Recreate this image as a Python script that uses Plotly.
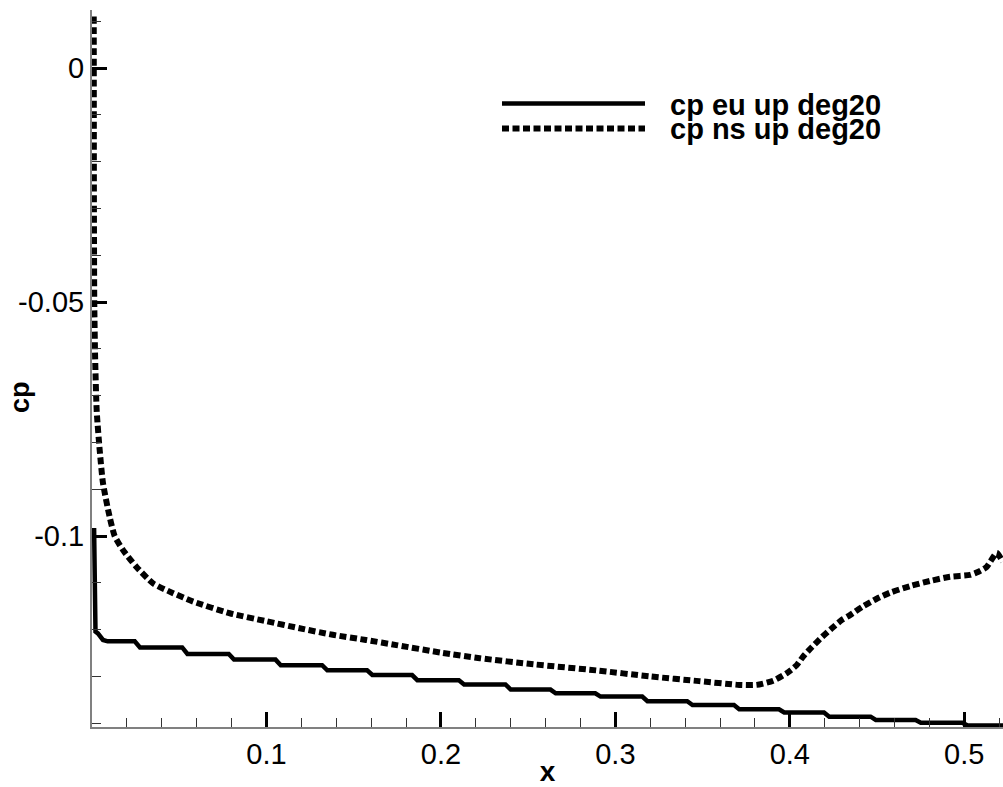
import plotly.graph_objects as go

# ---------------- data ----------------
x_eu = [0.0012, 0.0013, 0.0015, 0.0020, 0.0034, 0.0063, 0.0090,
        0.0245, 0.0275, 0.0517, 0.0547, 0.0784, 0.0814, 0.1052, 0.1082,
        0.1319, 0.1349, 0.1577, 0.1607, 0.1835, 0.1865, 0.2103, 0.2133,
        0.2370, 0.2400, 0.2628, 0.2658, 0.2885, 0.2915, 0.3154, 0.3184,
        0.3412, 0.3442, 0.3680, 0.3710, 0.3938, 0.3968, 0.4196, 0.4226,
        0.4463, 0.4493, 0.4721, 0.4751, 0.4989, 0.5019, 0.5222]
y_eu = [-0.0983, -0.1080, -0.1160, -0.1204, -0.1208, -0.1222, -0.1225,
        -0.1225, -0.1238, -0.1238, -0.1252, -0.1252, -0.1264, -0.1264, -0.1276,
        -0.1276, -0.1287, -0.1287, -0.1297, -0.1297, -0.1308, -0.1308, -0.1317,
        -0.1317, -0.1328, -0.1328, -0.1336, -0.1336, -0.1343, -0.1343, -0.1353,
        -0.1353, -0.1361, -0.1361, -0.1370, -0.1370, -0.1377, -0.1377, -0.1386,
        -0.1386, -0.1393, -0.1393, -0.1399, -0.1399, -0.1405, -0.1405]

x_ns = [0.0010, 0.0011, 0.0013, 0.0018, 0.0027, 0.0044, 0.0063, 0.0101, 0.0130,
        0.0178, 0.0255, 0.0350, 0.0465, 0.0580, 0.0790, 0.1000, 0.1190, 0.1380,
        0.1570, 0.1745, 0.2000, 0.2223, 0.2530, 0.2890, 0.3200, 0.3480, 0.3710,
        0.3810, 0.3905, 0.3982, 0.4039, 0.4075, 0.4127, 0.4184, 0.4241, 0.4299,
        0.4345, 0.4421, 0.4498, 0.4574, 0.4689, 0.4803, 0.4918, 0.5033, 0.5071,
        0.5128, 0.5186, 0.5220]
y_ns = [0.0110, -0.0300, -0.0500, -0.0620, -0.0733, -0.0816, -0.0887, -0.0959, -0.1000,
        -0.1030, -0.1066, -0.1101, -0.1122, -0.1140, -0.1165, -0.1182, -0.1197, -0.1211,
        -0.1222, -0.1233, -0.1249, -0.1261, -0.1274, -0.1287, -0.1300, -0.1310, -0.1318,
        -0.1318, -0.1309, -0.1293, -0.1276, -0.1258, -0.1237, -0.1216, -0.1197, -0.1179,
        -0.1169, -0.1150, -0.1134, -0.1121, -0.1107, -0.1096, -0.1087, -0.1083, -0.1078,
        -0.1066, -0.1036, -0.1055]

series_names = ["cp eu up deg20", "cp ns up deg20"]

x_tickvals = [0.1, 0.2, 0.3, 0.4, 0.5]
x_ticktext = ["0.1", "0.2", "0.3", "0.4", "0.5"]
y_tickvals = [0.0, -0.05, -0.1]
y_ticktext = ["0", "-0.05", "-0.1"]

# ---------------- figure ----------------
W, H = 1003, 787
ML, MR, MT, MB = 92, 0, 10, 60
PW, PH = W - ML - MR, H - MT - MB

FONT = "Liberation Sans, Arial, Helvetica, sans-serif"
DASH = "7px,3.5px"

fig = go.Figure()
fig.add_trace(go.Scatter(x=x_eu, y=y_eu, mode="lines", name=series_names[0],
                         line=dict(color="black", width=4.5), showlegend=False))
fig.add_trace(go.Scatter(x=x_ns, y=y_ns, mode="lines", name=series_names[1],
                         line=dict(color="black", width=6, dash=DASH, shape="spline",
                                   smoothing=0.6),
                         showlegend=False))


def px2paper(px, py):
    return (px - ML) / PW, (H - MB - py) / PH


# manual legend
leg_rows = [(103.5, "solid", 4.5), (128.5, DASH, 6)]
for (ly, dash, w), name in zip(leg_rows, series_names):
    x0, y0 = px2paper(502, ly)
    x1, _ = px2paper(645, ly)
    fig.add_shape(type="line", xref="paper", yref="paper", x0=x0, x1=x1, y0=y0, y1=y0,
                  line=dict(color="black", width=w, dash=dash))
    tx, ty = px2paper(668, ly + 1)
    fig.add_annotation(text="<b>%s</b>" % name, xref="paper", yref="paper", x=tx, y=ty,
                       xanchor="left", yanchor="middle", showarrow=False,
                       font=dict(family=FONT, size=29, color="black"))

# y-axis title placed like the reference
cx, cy = px2paper(20, 397)
fig.add_annotation(text="<b>cp</b>", xref="paper", yref="paper", x=cx, y=cy,
                   xanchor="center", yanchor="middle", textangle=-90, showarrow=False,
                   font=dict(family=FONT, size=27, color="black"))

axis_common = dict(
    showgrid=False, zeroline=False, showline=True, linecolor="#808080", linewidth=2,
    ticks="inside", ticklen=15, tickwidth=3, tickcolor="black",
    tickfont=dict(family=FONT, size=29, color="black"),
)

fig.update_xaxes(range=[0, 0.5222], tickmode="array", tickvals=x_tickvals, ticktext=x_ticktext,
                 minor=dict(tickmode="linear", tick0=0, dtick=0.02, ticks="inside",
                            ticklen=9, tickwidth=1, tickcolor="#333"),
                 title=dict(text="<b>x</b>", font=dict(family=FONT, size=28, color="black"),
                            standoff=0),
                 **axis_common)
fig.update_yaxes(range=[-0.1408, 0.0124], tickmode="array", tickvals=y_tickvals,
                 ticktext=y_ticktext,
                 minor=dict(tickmode="linear", tick0=0, dtick=0.01, ticks="inside",
                            ticklen=9, tickwidth=1, tickcolor="#333"),
                 **axis_common)

fig.update_layout(width=W, height=H, margin=dict(l=ML, r=MR, t=MT, b=MB, autoexpand=False),
                  plot_bgcolor="white", paper_bgcolor="white",
                  font=dict(family=FONT, color="black"))

fig.write_html("out.html")
